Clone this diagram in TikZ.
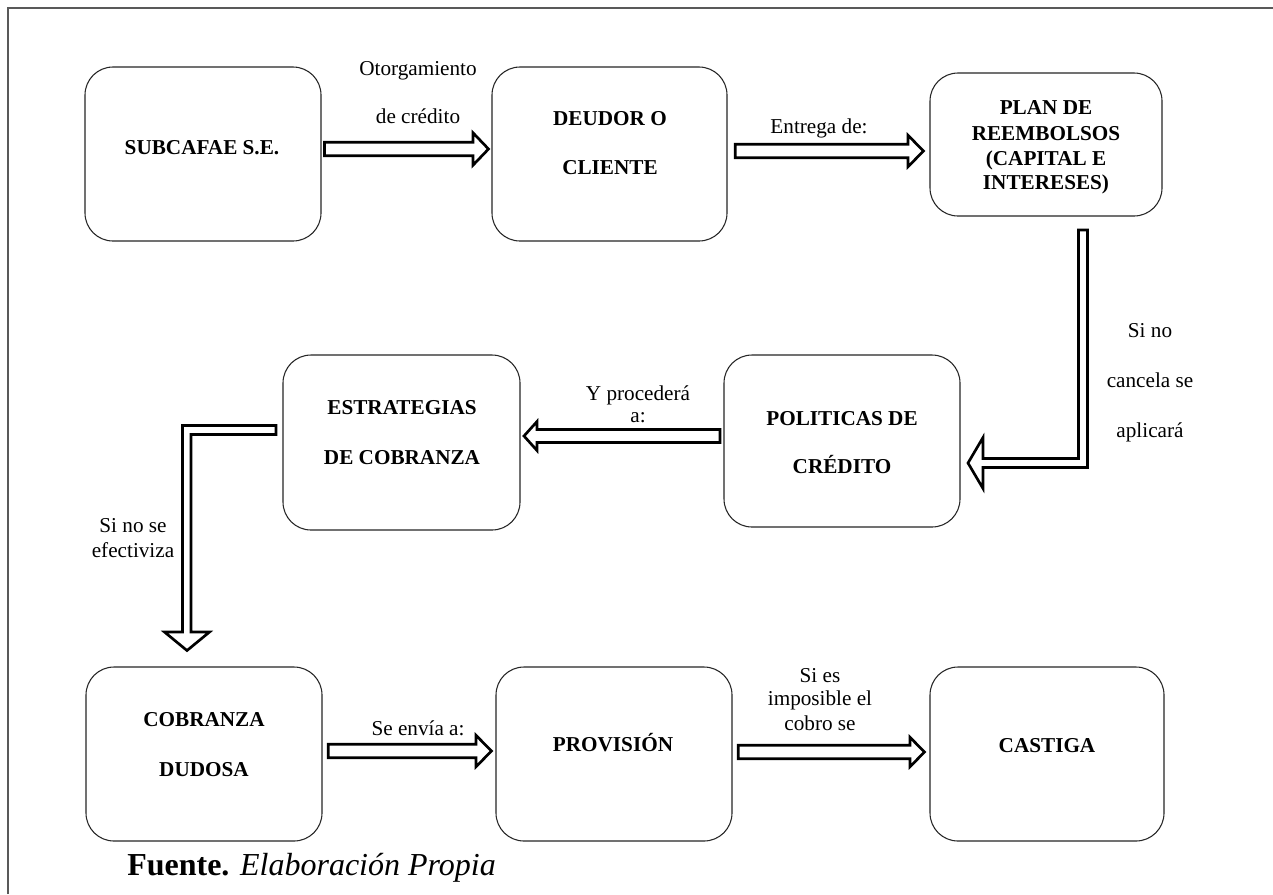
\documentclass[tikz,border=0pt]{standalone}
\usepackage{fontspec}
\setmainfont{Liberation Serif}
\usetikzlibrary{calc}
\newcommand\rarr[6]{\draw[blk] (#1,#3-#4) -- (#2-#6,#3-#4) -- (#2-#6,#3-#5) -- (#2,#3) -- (#2-#6,#3+#5) -- (#2-#6,#3+#4) -- (#1,#3+#4) -- cycle;}
\begin{document}
\begin{tikzpicture}[x=0.75pt,y=-0.75pt,
  box/.style={draw=black!85, line width=0.8pt, rounded corners=21pt, inner sep=0pt, outer sep=0pt},
  blk/.style={draw=black, line width=2pt, fill=white, line join=miter},
  frm/.style={draw=black!65, line width=1pt},
  lbl/.style={font=\fontsize{15.9}{18}\selectfont, anchor=base, inner sep=0pt},
  bt/.style={font=\fontsize{15.9}{18}\selectfont\bfseries, anchor=base, inner sep=0pt}]
\useasboundingbox (0,0) rectangle (1273,894);
\fill[white] (0,0) rectangle (1273,894);
\draw[frm] (8,894) -- (8,8) -- (1273,8);

% boxes
\node[box, minimum width=177pt, minimum height=130.5pt] (b1) at (203,154) {};
\node[box, minimum width=176.25pt, minimum height=130.5pt] (b2) at (609.5,154) {};
\node[box, minimum width=174pt, minimum height=107.25pt] (b3) at (1046,144.5) {};
\node[box, minimum width=177pt, minimum height=129pt] (b4) at (842,441) {};
\node[box, minimum width=177.75pt, minimum height=131.25pt] (b5) at (401.5,442.5) {};
\node[box, minimum width=177pt, minimum height=130.5pt] (b6) at (204,754) {};
\node[box, minimum width=177pt, minimum height=130.5pt] (b7) at (614,754) {};
\node[box, minimum width=175.5pt, minimum height=130.5pt] (b8) at (1047,754) {};

% box texts
\node[bt] (t1) at (202,154) {SUBCAFAE S.E.};
\node[bt] (t2a) at (610,125) {DEUDOR O};
\node[bt] (t2b) at (610,174) {CLIENTE};
\node[bt] (t3a) at (1046,114) {PLAN DE};
\node[bt] (t3b) at (1046,140) {REEMBOLSOS};
\node[bt] (t3c) at (1046,165) {(CAPITAL E};
\node[bt] (t3d) at (1046,189) {INTERESES)};
\node[bt] (t4a) at (842,425) {POLITICAS DE};
\node[bt] (t4b) at (842,473) {CRÉDITO};
\node[bt] (t5a) at (402,414) {ESTRATEGIAS};
\node[bt] (t5b) at (402,464) {DE COBRANZA};
\node[bt] (t6a) at (204,726) {COBRANZA};
\node[bt] (t6b) at (204,776) {DUDOSA};
\node[bt] (t7) at (613,751) {PROVISIÓN};
\node[bt] (t8) at (1047,752) {CASTIGA};

% arrows
\rarr{324.5}{488.5}{149}{6.7}{16.2}{15.5}
\rarr{735.3}{923.5}{151}{6.7}{15.7}{15.5}
\draw[blk] (1078.5,230) -- (1087.5,230) -- (1087.5,467.5) -- (983,467.5) -- (983,488.5) -- (968,463) -- (983,437.5) -- (983,458.5) -- (1078.5,458.5) -- cycle;
\draw[blk] (720,429.5) -- (537,429.5) -- (537,421.5) -- (524,436) -- (537,450.5) -- (537,442.5) -- (720,442.5) -- cycle;
\draw[blk] (276,425.5) -- (182.5,425.5) -- (182.5,632) -- (164.5,632) -- (187,650.5) -- (209.5,632) -- (191,632) -- (191,434.5) -- (276,434.5) -- cycle;
\rarr{328.3}{491.5}{751}{6.7}{15.7}{15.5}
\rarr{738.3}{924.5}{752}{6.7}{14.7}{14.5}

% labels
\node[lbl] (l1a) at (418,75) {Otorgamiento};
\node[lbl] (l1b) at (418,123) {de crédito};
\node[lbl] (l2) at (819,133) {Entrega de:};
\node[lbl] (l3a) at (1150,337) {Si no};
\node[lbl] (l3b) at (1150,387) {cancela se};
\node[lbl] (l3c) at (1150,437) {aplicará};
\node[lbl] (l4a) at (638,400) {Y procederá};
\node[lbl] (l4b) at (638,422) {a:};
\node[lbl] (l5a) at (133,532) {Si no se};
\node[lbl] (l5b) at (133,557) {efectiviza};
\node[lbl] (l6) at (418,735) {Se envía a:};
\node[lbl] (l7a) at (820,682) {Si es};
\node[lbl] (l7b) at (820,705) {imposible el};
\node[lbl] (l7c) at (820,730) {cobro se};

\node[font=\fontsize{24}{28}\selectfont, anchor=base west, inner sep=0pt] (src) at (127,875) {\textbf{Fuente.} \textit{Elaboración Propia}};
\end{tikzpicture}
\end{document}
